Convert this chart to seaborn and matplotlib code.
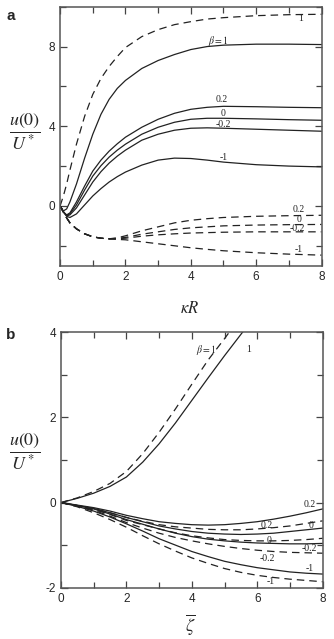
import numpy as np
import pandas as pd
import matplotlib
matplotlib.use('Agg')
import matplotlib.pyplot as plt
import seaborn as sns

# ---- panel a: u(0)/U* vs kappa R ----
kr_x = [0, 0.1, 0.2, 0.3, 0.5, 0.75, 1, 1.25, 1.5, 1.75, 2, 2.5, 3, 3.5, 4, 4.5, 5, 6, 7, 8]
a_solid_1 = [0, -0.25, -0.15, 0.2, 1.1, 2.4, 3.6, 4.6, 5.35, 5.9, 6.3, 6.9, 7.3, 7.6, 7.85, 8.0, 8.07, 8.12, 8.12, 8.1]
a_solid_02 = [0, -0.3, -0.45, -0.35, 0.2, 1.0, 1.75, 2.3, 2.75, 3.12, 3.45, 3.95, 4.35, 4.65, 4.85, 4.95, 5.0, 4.98, 4.95, 4.93]
a_solid_0 = [0, -0.3, -0.47, -0.4, 0.05, 0.8, 1.5, 2.02, 2.45, 2.8, 3.1, 3.6, 3.95, 4.2, 4.35, 4.4, 4.4, 4.37, 4.33, 4.3]
a_solid_m02 = [0, -0.3, -0.5, -0.45, -0.1, 0.55, 1.2, 1.72, 2.15, 2.5, 2.8, 3.3, 3.6, 3.8, 3.9, 3.92, 3.9, 3.85, 3.8, 3.75]
a_solid_m1 = [0, -0.3, -0.52, -0.58, -0.4, 0.05, 0.5, 0.87, 1.2, 1.47, 1.7, 2.05, 2.3, 2.4, 2.38, 2.3, 2.2, 2.07, 2.0, 1.96]
a_dash_1 = [0, 0.5, 1.1, 1.8, 3.1, 4.5, 5.6, 6.4, 7.0, 7.5, 7.95, 8.5, 8.85, 9.1, 9.25, 9.38, 9.45, 9.55, 9.6, 9.62]
a_dash_02 = [0, -0.3, -0.6, -0.85, -1.15, -1.4, -1.55, -1.62, -1.65, -1.6, -1.5, -1.25, -1.05, -0.85, -0.72, -0.64, -0.58, -0.52, -0.49, -0.47]
a_dash_0 = [0, -0.3, -0.6, -0.85, -1.15, -1.4, -1.55, -1.62, -1.65, -1.63, -1.58, -1.42, -1.3, -1.18, -1.1, -1.05, -1.0, -0.96, -0.94, -0.93]
a_dash_m02 = [0, -0.3, -0.6, -0.85, -1.15, -1.4, -1.55, -1.62, -1.65, -1.64, -1.62, -1.52, -1.45, -1.4, -1.36, -1.34, -1.32, -1.3, -1.3, -1.3]
a_dash_m1 = [0, -0.3, -0.6, -0.85, -1.15, -1.4, -1.55, -1.62, -1.66, -1.68, -1.7, -1.8, -1.9, -2.0, -2.1, -2.18, -2.25, -2.35, -2.42, -2.47]

# ---- panel b: u(0)/U* vs zeta bar ----
zeta_x = [0, 0.5, 1, 1.5, 2, 2.5, 3, 3.5, 4, 4.5, 5, 5.5, 6, 6.5, 7, 7.5, 8]
zeta_s1_x = [0, 0.5, 1, 1.5, 2, 2.5, 3, 3.5, 4, 4.5, 5, 5.5, 5.65]
zeta_d1_x = [0, 0.5, 1, 1.5, 2, 2.5, 3, 3.5, 4, 4.5, 5, 5.2]
b_solid_1 = [0, 0.1, 0.22, 0.38, 0.6, 0.95, 1.38, 1.87, 2.4, 2.93, 3.45, 3.95, 4.1]
b_dash_1 = [0, 0.11, 0.26, 0.45, 0.73, 1.15, 1.65, 2.2, 2.78, 3.35, 3.85, 4.06]
b_solid_02 = [0, -0.06, -0.12, -0.2, -0.3, -0.38, -0.45, -0.49, -0.52, -0.53, -0.52, -0.49, -0.45, -0.39, -0.32, -0.24, -0.15]
b_solid_0 = [0, -0.07, -0.14, -0.24, -0.35, -0.45, -0.55, -0.62, -0.68, -0.72, -0.74, -0.75, -0.74, -0.72, -0.68, -0.64, -0.6]
b_solid_m02 = [0, -0.07, -0.15, -0.27, -0.4, -0.51, -0.62, -0.72, -0.8, -0.86, -0.9, -0.93, -0.95, -0.96, -0.97, -0.97, -0.96]
b_solid_m1 = [0, -0.09, -0.2, -0.34, -0.5, -0.67, -0.85, -1.0, -1.15, -1.27, -1.38, -1.46, -1.53, -1.58, -1.63, -1.66, -1.68]
b_dash_02 = [0, -0.07, -0.14, -0.24, -0.35, -0.44, -0.52, -0.57, -0.6, -0.63, -0.64, -0.64, -0.62, -0.59, -0.55, -0.49, -0.43]
b_dash_0 = [0, -0.08, -0.16, -0.28, -0.42, -0.52, -0.62, -0.71, -0.78, -0.83, -0.87, -0.89, -0.9, -0.9, -0.89, -0.87, -0.84]
b_dash_m02 = [0, -0.08, -0.18, -0.32, -0.47, -0.6, -0.72, -0.82, -0.9, -0.97, -1.03, -1.08, -1.12, -1.15, -1.17, -1.18, -1.19]
b_dash_m1 = [0, -0.1, -0.24, -0.4, -0.58, -0.78, -0.97, -1.14, -1.3, -1.43, -1.55, -1.64, -1.71, -1.76, -1.8, -1.83, -1.86]

# curve labels: (text, x, y)
a_labels = [(r'$\beta=1$', 4.85, 8.3), ('1', 7.35, 9.4), ('0.2', 4.95, 5.35), ('0', 5.0, 4.65),
            ('-0.2', 5.0, 4.1), ('-1', 5.0, 2.45), ('0.2', 7.3, -0.2), ('0', 7.3, -0.67),
            ('-0.2', 7.25, -1.15), ('-1', 7.3, -2.2)]
b_labels = [(r'$\beta=1$', 4.45, 3.58), ('1', 5.75, 3.6), ('0.2', 7.6, -0.05), ('0.2', 6.3, -0.55),
            ('0', 7.65, -0.55), ('0', 6.35, -0.88), ('-0.2', 7.6, -1.07), ('-0.2', 6.3, -1.31),
            ('-1', 7.6, -1.54), ('-1', 6.4, -1.85)]


def make_df(curves):
    rows = []
    for (beta, kind), (xs, ys) in curves.items():
        for xv, yv in zip(xs, ys):
            rows.append({'x': xv, 'y': yv, 'beta': beta, 'kind': kind})
    return pd.DataFrame(rows)


df_a = make_df({
    ('1', 'solid'): (kr_x, a_solid_1), ('0.2', 'solid'): (kr_x, a_solid_02),
    ('0', 'solid'): (kr_x, a_solid_0), ('-0.2', 'solid'): (kr_x, a_solid_m02),
    ('-1', 'solid'): (kr_x, a_solid_m1), ('1', 'dash'): (kr_x, a_dash_1),
    ('0.2', 'dash'): (kr_x, a_dash_02), ('0', 'dash'): (kr_x, a_dash_0),
    ('-0.2', 'dash'): (kr_x, a_dash_m02), ('-1', 'dash'): (kr_x, a_dash_m1),
})
df_b = make_df({
    ('1', 'solid'): (zeta_s1_x, b_solid_1), ('0.2', 'solid'): (zeta_x, b_solid_02),
    ('0', 'solid'): (zeta_x, b_solid_0), ('-0.2', 'solid'): (zeta_x, b_solid_m02),
    ('-1', 'solid'): (zeta_x, b_solid_m1), ('1', 'dash'): (zeta_d1_x, b_dash_1),
    ('0.2', 'dash'): (zeta_x, b_dash_02), ('0', 'dash'): (zeta_x, b_dash_0),
    ('-0.2', 'dash'): (zeta_x, b_dash_m02), ('-1', 'dash'): (zeta_x, b_dash_m1),
})

sns.set_style('ticks')
plt.rcParams['font.family'] = ['Liberation Sans', 'DejaVu Sans']
plt.rcParams['mathtext.fontset'] = 'stix'
plt.rcParams['axes.unicode_minus'] = False

fig = plt.figure(figsize=(3.34, 6.39), dpi=100)
ax_a = fig.add_axes([0.180, 0.5842, 0.7826, 0.4053])
ax_b = fig.add_axes([0.1826, 0.0803, 0.7834, 0.3997])

pal = {b: '#222222' for b in ['1', '0.2', '0', '-0.2', '-1']}
dashes = {'solid': '', 'dash': (6, 4)}

for ax, df, labels in [(ax_a, df_a, a_labels), (ax_b, df_b, b_labels)]:
    sns.lineplot(data=df, x='x', y='y', hue='beta', style='kind',
                 palette=pal, dashes=dashes, estimator=None, sort=False,
                 linewidth=0.9, legend=False, ax=ax)
    for txt, lx, ly in labels:
        ax.text(lx, ly, txt, fontsize=7, family='Liberation Serif',
                ha='center', va='center', color='#222222')
    ax.set_xlim(0, 8)
    ax.set_xticks([0, 2, 4, 6, 8])
    ax.set_xticks([1, 3, 5, 7], minor=True)
    ax.set_xlabel('')
    ax.set_ylabel('')
    ax.tick_params(which='both', direction='in', top=True, right=True,
                   labelsize=8.5, color='#444444', width=0.9)
    ax.tick_params(which='major', length=5)
    ax.tick_params(which='minor', length=4)
    for sp in ax.spines.values():
        sp.set_color('#555555')
        sp.set_linewidth(1.1)

ax_a.set_ylim(-3, 10)
ax_a.set_yticks([0, 4, 8])
ax_a.set_yticks([-2, 2, 6, 10], minor=True)

ax_b.set_ylim(-2, 4)
ax_b.set_yticks([-2, 0, 2, 4])
ax_b.set_yticks([-1, 1, 3], minor=True)

ylab = r'$\dfrac{u(0)}{U^*}$'
fig.text(0.075, 0.793, ylab, fontsize=13, ha='center', va='center')
fig.text(0.075, 0.293, ylab, fontsize=13, ha='center', va='center')
fig.text(0.569, 0.518, r'$\kappa R$', fontsize=12, ha='center', va='center')
fig.text(0.569, 0.022, r'$\overline{\zeta}$', fontsize=13, ha='center', va='center')
fig.text(0.018, 0.975, 'a', fontsize=11, fontweight='bold', ha='left', va='center')
fig.text(0.018, 0.476, 'b', fontsize=11, fontweight='bold', ha='left', va='center')

fig.savefig('out.png', dpi=100)
